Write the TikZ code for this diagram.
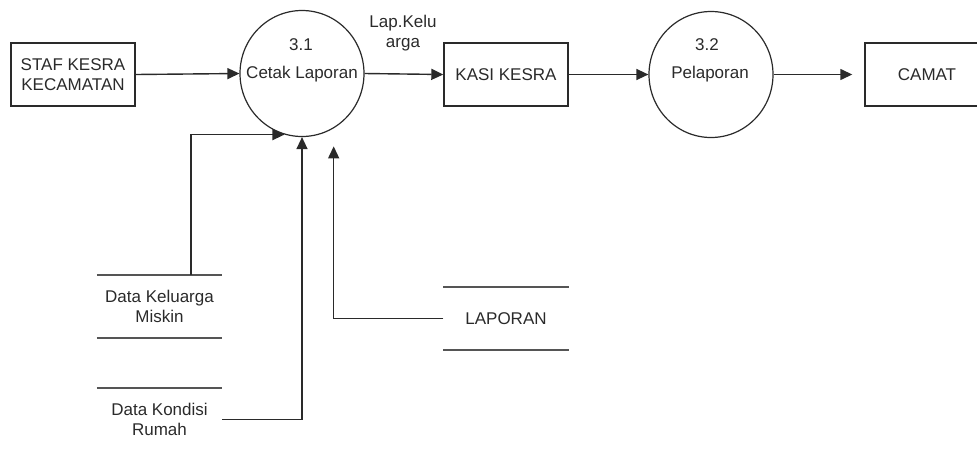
\documentclass[tikz,border=0pt]{standalone}
\usepackage{fontspec}
\setmainfont{Liberation Sans}
\usetikzlibrary{arrows.meta,shapes.geometric,calc}
\definecolor{ink}{HTML}{2A2A2A}
\definecolor{storeline}{HTML}{555555}
\begin{document}
\begin{tikzpicture}[x=1pt,y=-1pt,
  font=\fontsize{17}{20.4}\selectfont,
  every node/.style={text=ink, inner sep=0pt},
  entity/.style={draw=ink, line width=1.4pt, minimum width=124pt, minimum height=63pt, align=center},
  proc/.style={draw=ink, line width=1.2pt, ellipse, minimum width=124pt, minimum height=126pt},
  store/.style={minimum width=125pt, minimum height=63pt, align=center},
  storeedge/.style={draw=storeline, line width=2pt},
  arr/.style={draw=ink, line width=1.4pt, -{Triangle[length=12pt,width=11pt]}},
  lbl/.style={align=center}]
\useasboundingbox (0,0) rectangle (977,448);
% external entities
\node[entity] (staf) at (73,74.5) {STAF KESRA\\KECAMATAN};
\node[entity] (kasi) at (506,74.5) {KASI KESRA};
\node[entity] (camat) at (927,74.5) {CAMAT};
% processes
\node[proc] (p31) at (302,73.5) {};
\node (p31num) at (301,45) {3.1};
\node (p31txt) at (302,74) {Cetak Laporan};
\node[proc] (p32) at (711,74.5) {};
\node (p32num) at (707,45) {3.2};
\node (p32txt) at (710,74) {Pelaporan};
% flow label
\node[lbl] (flowlbl) at (403,33) {Lap.Kelu\\arga};
% data stores
\node[store] (dkm) at (159.5,306.5) {Data Keluarga\\Miskin};
\node[store] (dkr) at (159.5,419.5) {Data Kondisi\\Rumah};
\node[store] (lap) at (506,318.5) {LAPORAN};
\foreach \s in {dkm,dkr,lap}{
  \draw[storeedge] (\s.north west) -- (\s.north east);
  \draw[storeedge] (\s.south west) -- (\s.south east);
}
% flows
\draw[arr] (staf.east) -- (p31.west);
\draw[arr] (p31.east) -- (kasi.west);
\draw[arr] (kasi.east) -- (p32.west);
\draw[arr, shorten >=12pt] (p32.east) -- (camat.west);
\draw[arr] ($(dkm.north)+(31.5,0)$) |- (p31.-106);
\draw[arr] (dkr.east) -| (p31.south);
\draw[arr, shorten >=18pt] (lap.west) -| (p31.-60);
\end{tikzpicture}
\end{document}
